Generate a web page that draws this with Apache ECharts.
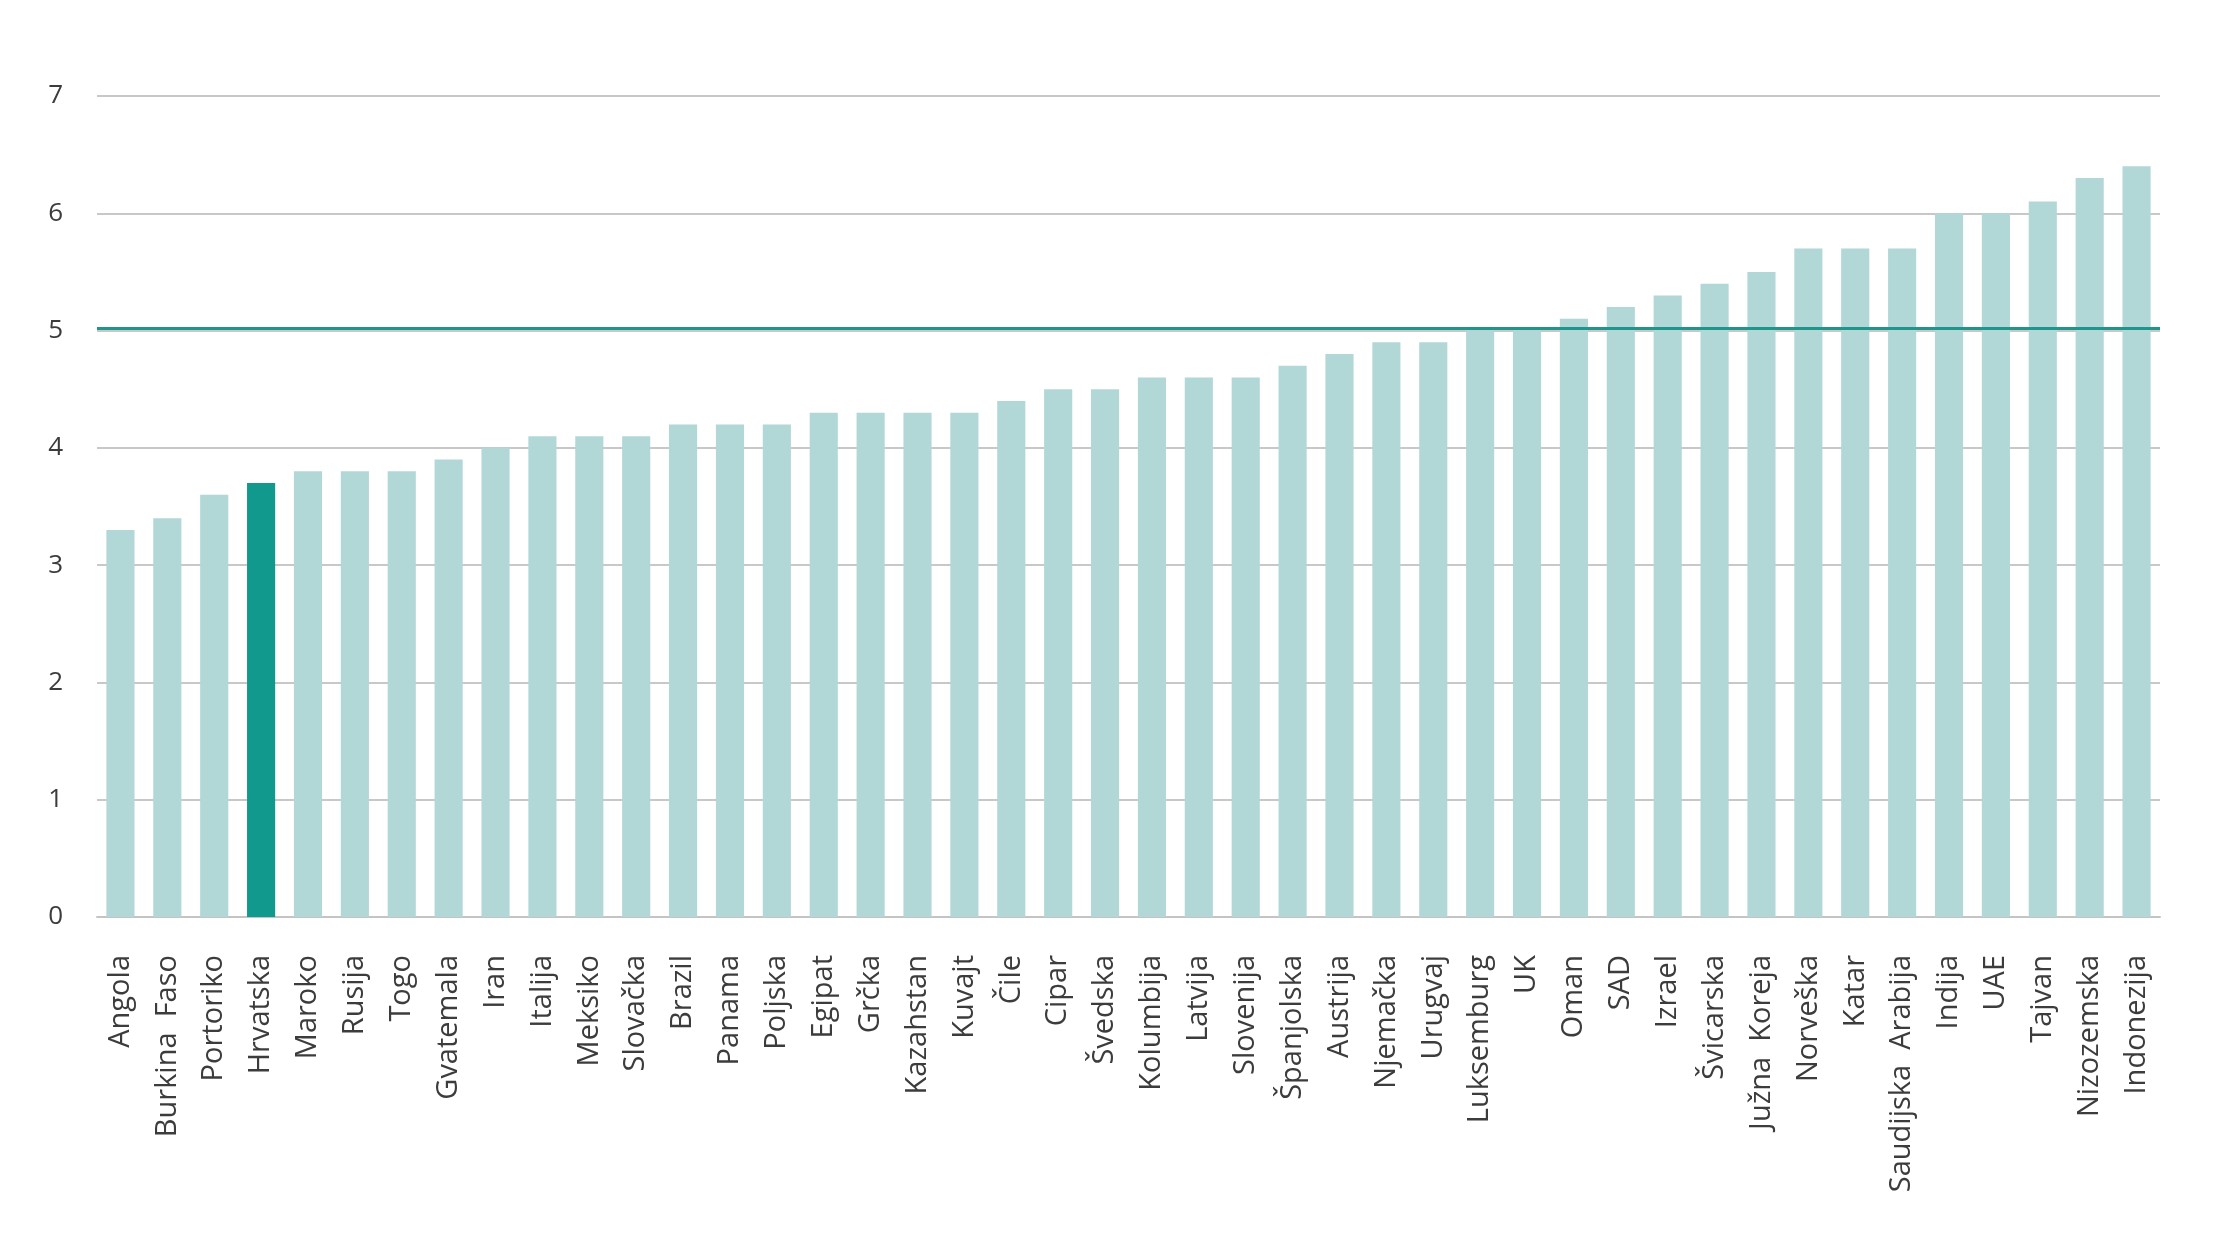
<!DOCTYPE html>
<html>
<head>
<meta charset="utf-8">
<script src="https://cdn.jsdelivr.net/npm/echarts@6/dist/echarts.min.js"></script>
<style>
  html, body { margin: 0; padding: 0; background: #fff; }
  #chart { width: 2240px; height: 1260px; }
</style>
</head>
<body>
<div id="chart"></div>
<script>
// drzave, poredane po vrijednosti
var countries = ['Angola', 'Burkina  Faso', 'Portoriko', 'Hrvatska', 'Maroko', 'Rusija', 'Togo', 'Gvatemala',
  'Iran', 'Italija', 'Meksiko', 'Slovačka', 'Brazil', 'Panama', 'Poljska', 'Egipat', 'Grčka', 'Kazahstan',
  'Kuvajt', 'Čile', 'Cipar', 'Švedska', 'Kolumbija', 'Latvija', 'Slovenija', 'Španjolska', 'Austrija',
  'Njemačka', 'Urugvaj', 'Luksemburg', 'UK', 'Oman', 'SAD', 'Izrael', 'Švicarska', 'Južna  Koreja',
  'Norveška', 'Katar', 'Saudijska  Arabija', 'Indija', 'UAE', 'Tajvan', 'Nizozemska', 'Indonezija']
var values = [3.3, 3.4, 3.6, 3.7, 3.8, 3.8, 3.8, 3.9,
  4.0, 4.1, 4.1, 4.1, 4.2, 4.2, 4.2, 4.3, 4.3, 4.3,
  4.3, 4.4, 4.5, 4.5, 4.6, 4.6, 4.6, 4.7, 4.8,
  4.9, 4.9, 5.0, 5.0, 5.1, 5.2, 5.3, 5.4, 5.5,
  5.7, 5.7, 5.7, 6.0, 6.0, 6.1, 6.3, 6.4]
var highlight = 'Hrvatska'
var refValue = 5.02
var yTicks = [0, 7, 1] // min, max, interval

var barColor = '#b1d8d7'
var hiColor = '#12998d'

var chart = echarts.init(document.getElementById('chart'))

var barData = values.map(function (v, i) {
  if (countries[i] === highlight) {
    return { value: v, itemStyle: { color: hiColor } }
  }
  return v
})

chart.setOption({
  animation: false,
  textStyle: { fontFamily: 'Open Sans' },
  grid: {
    left: 97,
    right: 80,
    top: 96,
    bottom: 343
  },
  xAxis: {
    type: 'category',
    data: countries,
    axisLine: { lineStyle: { color: '#c4c4c4', width: 2 } },
    axisTick: { show: false },
    axisLabel: {
      rotate: 90,
      interval: 0,
      margin: 38,
      color: '#3c3c3c',
      fontSize: 29
    }
  },
  yAxis: {
    type: 'value',
    min: yTicks[0],
    max: yTicks[1],
    interval: yTicks[2],
    axisLine: { show: false },
    axisTick: { show: false },
    axisLabel: {
      color: '#3c3c3c',
      fontSize: 26,
      margin: 34
    },
    splitLine: { lineStyle: { color: '#c8c8c8', width: 2 } }
  },
  series: [{
    type: 'bar',
    data: barData,
    barWidth: '60%',
    itemStyle: { color: barColor },
    markLine: {
      silent: true,
      symbol: 'none',
      label: { show: false },
      z: 10,
      lineStyle: { color: '#1f958c', width: 3, type: 'solid' },
      data: [{ yAxis: refValue }]
    }
  }]
})
</script>
</body>
</html>
